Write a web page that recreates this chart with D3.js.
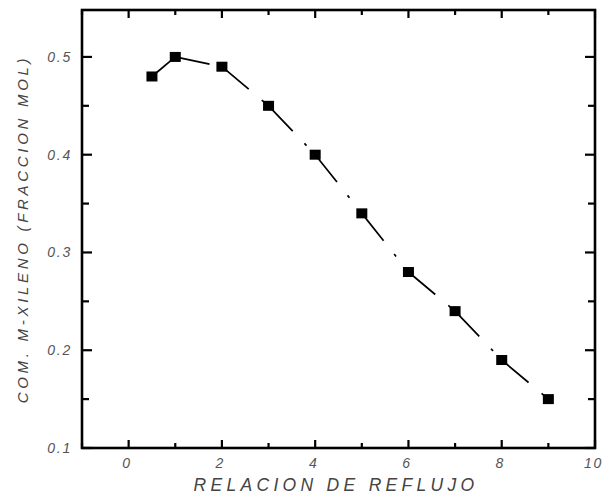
<!DOCTYPE html>
<html>
<head>
<meta charset="utf-8">
<script src="https://cdn.jsdelivr.net/npm/d3@7"></script>
<style>
  html, body { margin: 0; padding: 0; background: #fff; }
  svg { display: block; }
  .tick-label { font-family: "Liberation Sans", Arial, sans-serif; font-style: italic; font-size: 14px; fill: #555; letter-spacing: 1.8px; }
  .axis-title { font-family: "Liberation Sans", Arial, sans-serif; font-style: italic; fill: #444; }
</style>
</head>
<body>
<script>
// Reflux ratio vs. m-xylene composition (mol fraction)
const reflujo = [0.5, 1, 2, 3, 4, 5, 6, 7, 8, 9];
const xileno = [0.48, 0.50, 0.49, 0.45, 0.40, 0.34, 0.28, 0.24, 0.19, 0.15];
const xTicks = [0, 2, 4, 6, 8, 10];
const xMinor = [-1, 1, 3, 5, 7, 9];
const yTicks = [0.1, 0.2, 0.3, 0.4, 0.5];
const yMinor = [0.15, 0.25, 0.35, 0.45];

const W = 603, H = 497;
const m = { left: 82, right: 8, top: 10, bottom: 49 };

const svg = d3.select("body").append("svg").attr("width", W).attr("height", H);

const x = d3.scaleLinear().domain([-1, 10]).range([m.left, W - m.right]);
const y = d3.scaleLinear().domain([0.1, 0.548]).range([H - m.bottom, m.top]);

const x0 = x.range()[0], x1 = x.range()[1];
const y0 = y.range()[0], y1 = y.range()[1];

// frame
svg.append("rect")
  .attr("x", x0).attr("y", y1)
  .attr("width", x1 - x0).attr("height", y0 - y1)
  .attr("fill", "none").attr("stroke", "#000").attr("stroke-width", 2.6);

const tickG = svg.append("g").attr("stroke", "#000").attr("stroke-width", 2.2);

// inward ticks on all four sides
function xTick(v, len) {
  tickG.append("line").attr("x1", x(v)).attr("x2", x(v)).attr("y1", y0).attr("y2", y0 - len);
  tickG.append("line").attr("x1", x(v)).attr("x2", x(v)).attr("y1", y1).attr("y2", y1 + len);
}
function yTick(v, len) {
  tickG.append("line").attr("y1", y(v)).attr("y2", y(v)).attr("x1", x0).attr("x2", x0 + len);
  tickG.append("line").attr("y1", y(v)).attr("y2", y(v)).attr("x1", x1).attr("x2", x1 - len);
}
xTicks.forEach(v => xTick(v, 8));
xMinor.forEach(v => xTick(v, 5));
yTicks.forEach(v => yTick(v, 10));
yMinor.forEach(v => yTick(v, 7));

// tick labels (shifted left a touch to balance the trailing letter-spacing)
svg.selectAll(".xl").data(xTicks).enter().append("text")
  .attr("class", "tick-label")
  .attr("x", d => x(d) - 1.5).attr("y", y0 + 20)
  .attr("text-anchor", "middle")
  .attr("letter-spacing", "1.2px")
  .text(d => d3.format("d")(d));

svg.selectAll(".yl").data(yTicks).enter().append("text")
  .attr("class", "tick-label")
  .attr("x", x0 - 10).attr("y", d => y(d) + 5)
  .attr("text-anchor", "end")
  .text(d => d3.format(".1f")(d));

// axis titles
svg.append("text").attr("class", "axis-title")
  .attr("x", 336).attr("y", 491)
  .attr("text-anchor", "middle")
  .attr("font-size", "17.5px")
  .attr("letter-spacing", "4.3px")
  .text("RELACION DE REFLUJO");

svg.append("text").attr("class", "axis-title")
  .attr("transform", `translate(28, ${(y0 + y1) / 2}) rotate(-90)`)
  .attr("text-anchor", "middle")
  .attr("font-size", "15px")
  .attr("letter-spacing", "3.7px")
  .text("COM. M-XILENO (FRACCION MOL)");

// connecting line: each segment carries its own dash pattern, starting at its left point
const line = d3.line().x(d => x(d[0])).y(d => y(d[1]));
const pts = d3.zip(reflujo, xileno);
const segs = d3.pairs(pts);

svg.selectAll(".seg").data(segs).enter().append("path")
  .attr("d", line)
  .attr("fill", "none")
  .attr("stroke", "#000")
  .attr("stroke-width", 1.7)
  .attr("stroke-dasharray", "35,17,3,60");

// square markers
svg.selectAll(".pt").data(pts).enter().append("rect")
  .attr("x", d => x(d[0]) - 5.5)
  .attr("y", d => y(d[1]) - 5)
  .attr("width", 11).attr("height", 10)
  .attr("fill", "#000");
</script>
</body>
</html>
